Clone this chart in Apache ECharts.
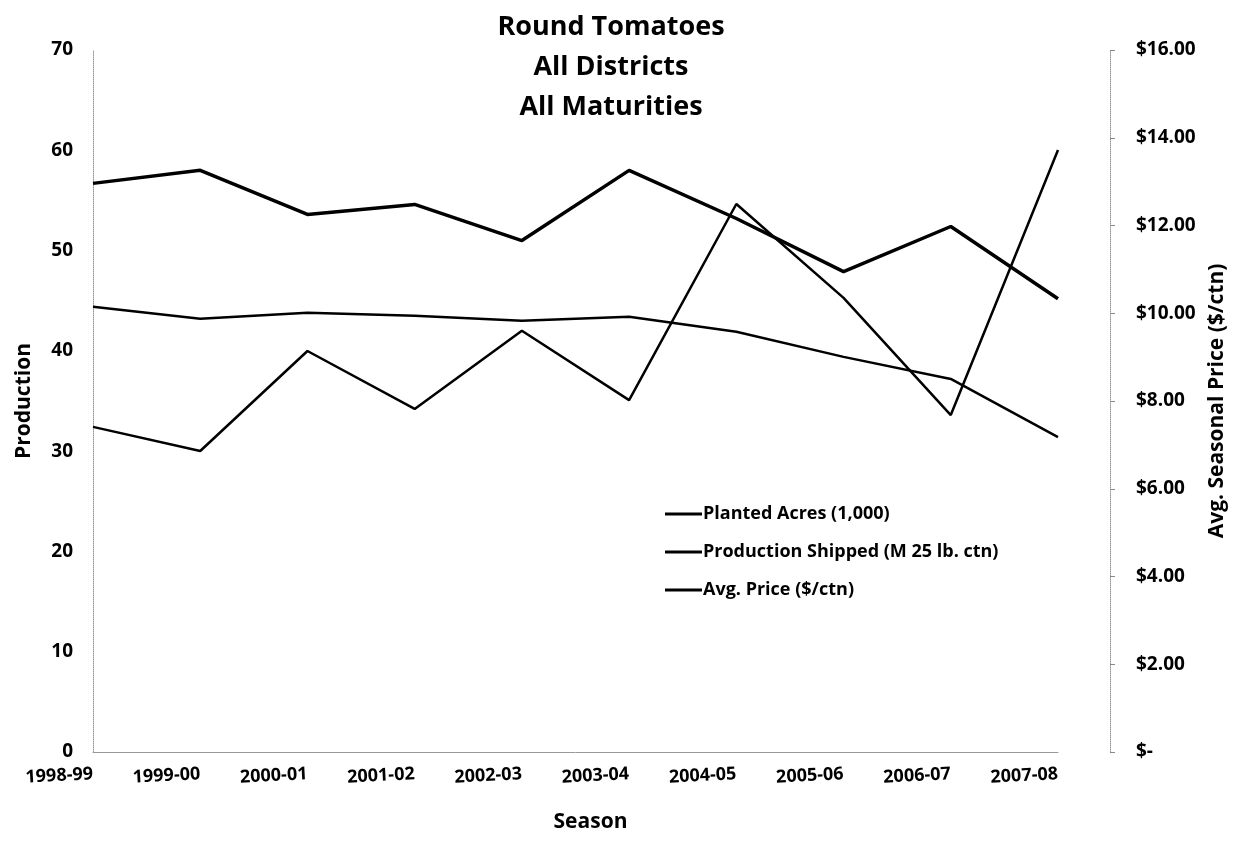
<!DOCTYPE html>
<html>
<head>
<meta charset="utf-8">
<script src="https://cdn.jsdelivr.net/npm/echarts@6/dist/echarts.min.js"></script>
<style>html,body{margin:0;padding:0;background:#fff}#c{width:1236px;height:863px}</style>
</head>
<body>
<div id="c"></div>
<script>
const seasons = ['1998-99','1999-00','2000-01','2001-02','2002-03','2003-04','2004-05','2005-06','2006-07','2007-08'];
const plantedAcres = [44.4, 43.2, 43.8, 43.5, 43.0, 43.4, 41.9, 39.4, 37.2, 31.4];
const productionShipped = [56.7, 58.0, 53.6, 54.6, 51.0, 58.0, 53.2, 47.9, 52.4, 45.2];
const avgPrice = [7.41, 6.86, 9.14, 7.82, 9.60, 8.02, 12.49, 10.35, 7.68, 13.72];
const leftTicks = {min: 0, max: 70, interval: 10};
const rightTicks = {min: 0, max: 16, interval: 2};

const FONT = 'Open Sans';
const chart = echarts.init(document.getElementById('c'));
chart.setOption({
  backgroundColor: '#fff',
  animation: false,
  textStyle: {fontFamily: FONT},
  title: {
    text: 'Round Tomatoes\nAll Districts\nAll Maturities',
    left: 606, top: 2, textAlign: 'center',
    textStyle: {fontFamily: FONT, fontWeight: 'bold', fontSize: 27, lineHeight: 40, color: '#000'}
  },
  legend: {
    orient: 'vertical', left: 660, top: 497,
    icon: 'rect', itemWidth: 37, itemHeight: 3, itemGap: 14,
    data: ['Planted Acres (1,000)', 'Production Shipped (M 25 lb. ctn)', 'Avg. Price ($/ctn)'],
    textStyle: {fontFamily: FONT, fontWeight: 'bold', fontSize: 18, lineHeight: 24, color: '#000', padding: [0,0,0,-4]}
  },
  grid: {left: 93, right: 178, top: 50, bottom: 111, containLabel: false},
  xAxis: {
    type: 'category', data: seasons, boundaryGap: false,
    name: 'Season', nameLocation: 'middle', nameGap: 60,
    nameTextStyle: {fontFamily: FONT, fontWeight: 'bold', fontSize: 21, color: '#000', padding: [0,0,0,30]},
    axisLine: {lineStyle: {color: '#999', width: 1}},
    axisTick: {show: false},
    axisLabel: {rotate: 3, margin: 22, fontFamily: FONT, fontWeight: 'bold', fontSize: 18, color: '#000'}
  },
  yAxis: [{
    type: 'value', min: leftTicks.min, max: leftTicks.max, interval: leftTicks.interval,
    name: 'Production', nameLocation: 'middle', nameGap: 58, nameRotate: 90,
    nameTextStyle: {fontFamily: FONT, fontWeight: 'bold', fontSize: 21, color: '#000'},
    axisLine: {show: true, lineStyle: {color: '#999', width: 1, type: 'dotted'}},
    axisTick: {show: false},
    splitLine: {show: false},
    axisLabel: {margin: 20, fontFamily: FONT, fontWeight: 'bold', fontSize: 19, color: '#000'}
  }, {
    type: 'value', position: 'right', offset: 52,
    min: rightTicks.min, max: rightTicks.max, interval: rightTicks.interval,
    name: 'Avg. Seasonal Price ($/ctn)', nameLocation: 'middle', nameGap: 93, nameRotate: 90,
    nameTextStyle: {fontFamily: FONT, fontWeight: 'bold', fontSize: 21, color: '#000'},
    axisLine: {show: true, lineStyle: {color: '#999', width: 1, type: 'dotted'}},
    axisTick: {show: true, length: 5, lineStyle: {color: '#888'}},
    splitLine: {show: false},
    axisLabel: {margin: 26, fontFamily: FONT, fontWeight: 'bold', fontSize: 19, color: '#000',
      formatter: v => v === 0 ? '$-' : '$' + v.toFixed(2)}
  }],
  series: [{
    name: 'Production Shipped (M 25 lb. ctn)', type: 'line', yAxisIndex: 0, data: productionShipped,
    symbol: 'none', lineStyle: {color: '#000', width: 3.5}, itemStyle: {color: '#000'}
  }, {
    name: 'Planted Acres (1,000)', type: 'line', yAxisIndex: 0, data: plantedAcres,
    symbol: 'none', lineStyle: {color: '#000', width: 2.5}, itemStyle: {color: '#000'}
  }, {
    name: 'Avg. Price ($/ctn)', type: 'line', yAxisIndex: 1, data: avgPrice,
    symbol: 'none', lineStyle: {color: '#000', width: 2.5}, itemStyle: {color: '#000'}
  }]
});
</script>
</body>
</html>
